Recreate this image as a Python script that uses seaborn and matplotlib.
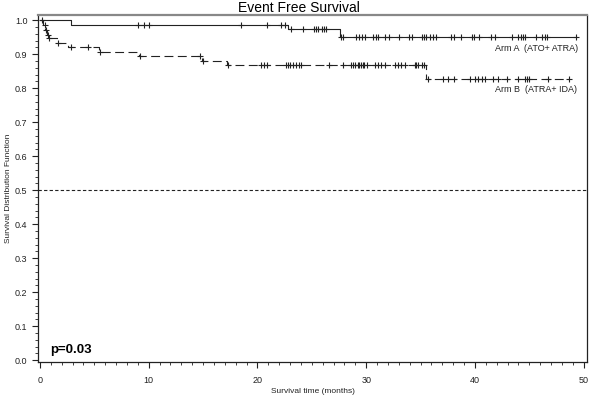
import numpy as np
import pandas as pd
import matplotlib
matplotlib.use('Agg')
import matplotlib.pyplot as plt
import seaborn as sns
from matplotlib.ticker import MultipleLocator

sns.set_style("ticks")
plt.rcParams['font.family'] = ['Liberation Sans', 'DejaVu Sans']

# Arm A (ATO+ATRA): event times and survival after each event
a_times = [0, 2.9, 22.8, 27.6]
a_surv = [1.0, 0.987, 0.973, 0.951]
a_end = 49.4
a_cens = [0.2, 9.0, 9.6, 10.0, 18.5, 20.9, 22.2, 22.5,
          23.1, 24.2, 25.2, 25.4, 25.6, 25.9, 26.1, 26.3,
          27.7, 27.9, 29.1, 29.3, 29.6, 29.9, 30.6, 30.9, 31.1, 31.7, 32.1,
          33.0, 33.9, 34.2, 35.1, 35.3, 35.5, 35.9, 36.1, 36.4, 37.8, 38.1,
          38.7, 39.7, 39.9, 40.4, 41.5, 41.8, 43.4, 44.0, 44.2, 44.4, 44.6,
          45.6, 46.2, 46.4, 46.6, 49.3]

# Arm B (ATRA+IDA)
b_times = [0, 0.3, 0.5, 0.65, 0.8, 1.6, 2.6, 5.45, 9.1, 14.9, 17.2, 35.5]
b_surv = [1.0, 0.985, 0.97, 0.956, 0.946, 0.934, 0.921, 0.907, 0.895,
          0.881, 0.867, 0.826]
b_end = 48.6
b_cens = [0.45, 0.6, 0.7, 0.85, 1.7, 2.85, 4.4, 5.5, 9.2, 14.7, 15.0,
          17.3, 20.3, 20.6, 20.9, 22.6, 22.8, 23.0, 23.3, 23.5, 23.8, 24.0,
          26.6, 27.9, 28.6, 28.8, 29.0, 29.2, 29.3, 29.5, 29.7, 29.8, 30.1,
          30.8, 31.1, 31.4, 31.7, 32.6, 32.9, 33.2, 33.6, 34.5, 34.6, 34.8,
          35.1, 35.3, 35.7, 37.1, 37.5, 38.1, 39.5, 40.0, 40.3, 40.6, 40.9,
          41.7, 42.1, 42.9, 44.0, 44.6, 44.8, 45.0, 46.7, 48.6]


def steps(times, surv, end):
    return pd.DataFrame({'time': list(times) + [end],
                         'surv': list(surv) + [surv[-1]]})


def censor(times, surv, cens):
    idx = np.searchsorted(times, cens, side='right') - 1
    return pd.DataFrame({'time': cens, 'surv': np.array(surv)[idx]})


fig = plt.figure(figsize=(5.89, 3.96), dpi=100)
ax = fig.add_axes([38 / 589, 34 / 396, 549 / 589, 347 / 396])

col = '#222222'
sns.lineplot(data=steps(a_times, a_surv, a_end), x='time', y='surv',
             drawstyle='steps-post', color=col, lw=0.8, estimator=None,
             sort=False, ax=ax)
sns.lineplot(data=steps(b_times, b_surv, b_end), x='time', y='surv',
             drawstyle='steps-post', color=col, lw=0.8, estimator=None,
             sort=False, ax=ax, linestyle=(0, (8, 4)))
sns.scatterplot(data=censor(a_times, a_surv, a_cens), x='time', y='surv',
                marker='+', s=22, color=col, linewidth=0.8, ax=ax)
sns.scatterplot(data=censor(b_times, b_surv, b_cens), x='time', y='surv',
                marker='+', s=22, color=col, linewidth=0.8, ax=ax)

ax.axhline(0.5, color=col, lw=0.8, linestyle=(0, (3, 2)))

ax.text(49.5, 0.917, 'Arm A  (ATO+ ATRA)', ha='right', va='center',
        fontsize=6.5, color=col)
ax.text(45.6, 0.795, 'Arm B  (ATRA+ IDA)', ha='center', va='center',
        fontsize=6.5, color=col)
ax.text(0.9, 0.022, 'p=0.03', fontsize=9.5, fontweight='bold', color='black')

ax.set_xlim(-0.18, 50.3)
ax.set_ylim(-0.005, 1.015)
ax.set_xticks(range(0, 51, 10))
ax.set_yticks(np.arange(0, 1.01, 0.1))
ax.set_yticklabels([f'{v:.1f}' for v in np.arange(0, 1.01, 0.1)])
ax.xaxis.set_minor_locator(MultipleLocator(1))
ax.yaxis.set_minor_locator(MultipleLocator(0.02))
ax.tick_params(which='major', length=4, width=0.8, labelsize=6.5,
               colors=col, direction='out')
ax.tick_params(which='minor', length=2, width=0.6, direction='out',
               colors=col)
ax.tick_params(axis='x', pad=6)

for side in ['left', 'right', 'bottom']:
    ax.spines[side].set_color(col)
    ax.spines[side].set_linewidth(0.9)
ax.spines['top'].set_color('#888888')
ax.spines['top'].set_linewidth(1.6)

ax.set_xlabel('Survival time (months)', fontsize=6, color=col, labelpad=2)
ax.set_ylabel('Survival Distribution Function', fontsize=6, color=col,
              labelpad=2)
fig.suptitle('Event Free Survival', fontsize=10, color='black',
             x=0.508, y=0.997, va='top')

fig.savefig('out.png', dpi=100)
